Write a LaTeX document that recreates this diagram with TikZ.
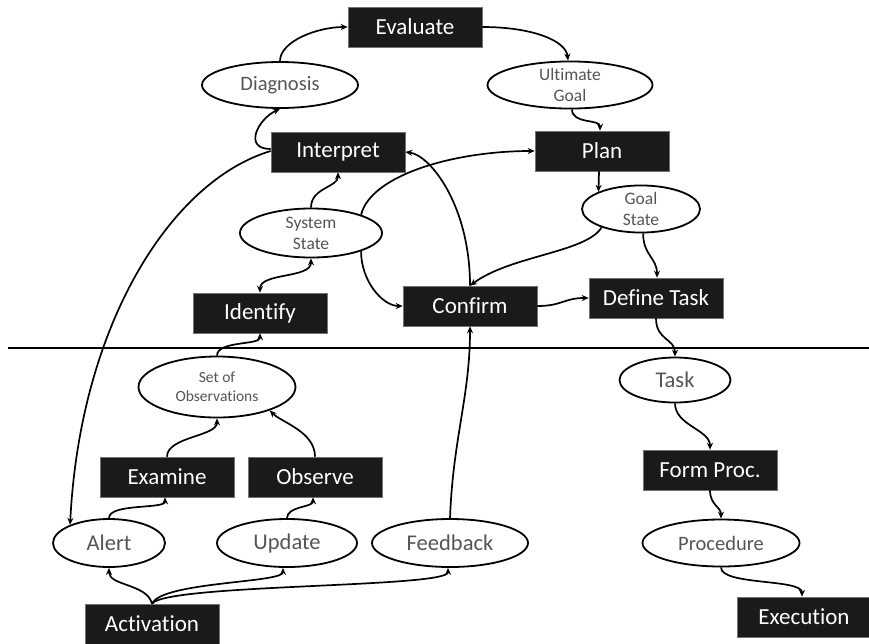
\documentclass[tikz,border=0pt]{standalone}
\usepackage{fontspec}
\setmainfont{Carlito}[Ligatures={NoCommon,NoContextual,NoRare}, Contextuals=NoAlternate]
\usetikzlibrary{arrows.meta,shapes.geometric}
\definecolor{boxfill}{RGB}{26,26,26}
\definecolor{ovaltext}{RGB}{85,85,85}
\begin{document}
\begin{tikzpicture}[x=1pt,y=-1pt,
  stage/.style={rectangle, fill=boxfill, draw=black!55, line width=0.6pt,
    text=white, minimum width=134pt, minimum height=40pt, inner sep=0pt,
    font=\fontsize{23}{27}\selectfont},
  state/.style={ellipse, draw=black, line width=1.8pt, fill=white,
    text=ovaltext, inner sep=0pt, align=center},
  bigtxt/.style={font=\fontsize{22.5}{26}\selectfont},
  midtxt/.style={font=\fontsize{20.5}{24}\selectfont},
  smalltxt/.style={font=\fontsize{17.5}{21}\selectfont},
  tinytxt/.style={font=\fontsize{15.5}{19}\selectfont},
  flow/.style={line width=1.7pt, -{Stealth[length=7pt,width=6pt]}},
  twoway/.style={line width=1.7pt, {Stealth[length=7pt,width=6pt]}-{Stealth[length=7pt,width=6pt]}},
]
\useasboundingbox (0,0) rectangle (869,643);

% boundary line between the two levels
\coordinate (ruleL) at (8,348);
\coordinate (ruleR) at (869,348);
\draw[line width=2.4pt] (ruleL) -- (ruleR);

% activities
\node[stage] (evaluate)   at (415,27)  {Evaluate};
\node[stage] (interpret)  at (338,152) {Interpret};
\node[stage] (plan)       at (602,151) {Plan};
\node[stage] (confirm)    at (470,306) {Confirm};
\node[stage] (definetask) at (656,298) {Define Task};
\node[stage] (identify)   at (260,313) {Identify};
\node[stage] (examine)    at (167,477) {Examine};
\node[stage] (observe)    at (315,477) {Observe};
\node[stage] (activation) at (152,624) {Activation};
\node[stage] (formproc)   at (710,470) {Form Proc.};
\node[stage] (execution)  at (804,617) {Execution};

% states of knowledge
\node[state, midtxt, minimum width=156pt, minimum height=46pt] (diagnosis) at (280,85) {Diagnosis};
\node[state, smalltxt, minimum width=165pt, minimum height=46pt] (ultgoal) at (570,85) {Ultimate\\Goal};
\node[state, smalltxt, minimum width=142pt, minimum height=49pt] (sysstate) at (311,233) {System\\State};
\node[state, smalltxt, minimum width=118pt, minimum height=46pt] (goalstate) at (641,209) {Goal\\State};
\node[state, tinytxt, minimum width=157pt, minimum height=61pt] (setobs) at (217,387) {Set of\\Observations};
\node[state, bigtxt, minimum width=112pt, minimum height=48pt] (alert) at (109,543) {Alert};
\node[state, bigtxt, minimum width=140pt, minimum height=48pt] (update) at (287,543) {Update};
\node[state, bigtxt, minimum width=156pt, minimum height=48pt] (feedback) at (450,543) {Feedback};
\node[state, bigtxt, minimum width=111pt, minimum height=45pt] (task) at (675,380) {Task};
\node[state, midtxt, minimum width=157pt, minimum height=47pt] (procedure) at (721,543) {Procedure};

% upper loop
\draw[flow] (diagnosis.north) .. controls +(0,-20) and +(-30,0) .. (evaluate.west);
\draw[flow] (evaluate.east) .. controls +(50,0) and +(-2,-20) .. ([xshift=-2pt]ultgoal.north);
\draw[flow] ([xshift=2pt]ultgoal.south) .. controls +(0,15) and +(0,-12) .. ([xshift=-2pt]plan.north);
\draw[flow] ([xshift=-3pt]plan.south) -- (goalstate.158);
\draw[flow] (goalstate.-85) .. controls +(0,22) and +(0,-20) .. ([xshift=1pt]definetask.north);
\draw[flow] (goalstate.-155) .. controls +(-15,25) and +(40,-30) .. (confirm.north);
\draw[flow] (confirm.north) .. controls +(0,-80) and +(25,3) .. (interpret.east);
\draw[flow] (sysstate.20) .. controls +(10,-40) and +(-80,0) .. (plan.west);
\draw[flow] (sysstate.-20) .. controls +(0,30) and +(-20,0) .. (confirm.west);
\draw[flow] (confirm.east) .. controls +(25,0) and +(-25,0) .. (definetask.west);
\draw[flow] (sysstate.north) .. controls +(0,-20) and +(0,15) .. (interpret.south);
\draw[twoway] (identify.north) .. controls +(0,-20) and +(0,20) .. (sysstate.south);
\draw[flow] ([yshift=3pt]interpret.west) .. controls +(-28,0) and +(-22,10) .. (diagnosis.south);
\draw[flow] ([yshift=1pt]interpret.west) .. controls +(-100,30) and +(10,-200) .. (alert.155);

% observation side
\draw[flow] (setobs.north) .. controls +(0,-15) and +(0,12) .. (identify.south);
\draw[flow] (examine.north) .. controls +(0,-20) and +(0,18) .. (setobs.south);
\draw[flow] (observe.north) .. controls +(0,-25) and +(12,12) .. (setobs.-24);
\draw[flow] (alert.north) .. controls +(0,-15) and +(0,12) .. ([xshift=-2pt]examine.south);
\draw[flow] (update.north) .. controls +(0,-12) and +(0,10) .. ([xshift=-2pt]observe.south);
\draw[flow] (activation.north) .. controls +(-5,-20) and +(0,18) .. (alert.south);
\draw[flow] (activation.north) .. controls +(10,-22) and +(0,15) .. ([xshift=-4pt]update.south);
\draw[flow] (activation.north) .. controls +(15,-20) and +(0,20) .. ([xshift=-2pt]feedback.south);
\draw[flow] (feedback.north) .. controls +(3,-80) and +(0,70) .. (confirm.south);

% execution side
\draw[flow] (definetask.south) .. controls +(0,22) and +(0,-18) .. (task.north);
\draw[flow] (task.south) .. controls +(0,22) and +(0,-20) .. (formproc.north);
\draw[flow] (formproc.south) .. controls +(0,15) and +(0,-12) .. (procedure.north);
\draw[flow] (procedure.south) .. controls +(0,18) and +(0,-18) .. ([xshift=-2pt]execution.north);
\end{tikzpicture}
\end{document}
